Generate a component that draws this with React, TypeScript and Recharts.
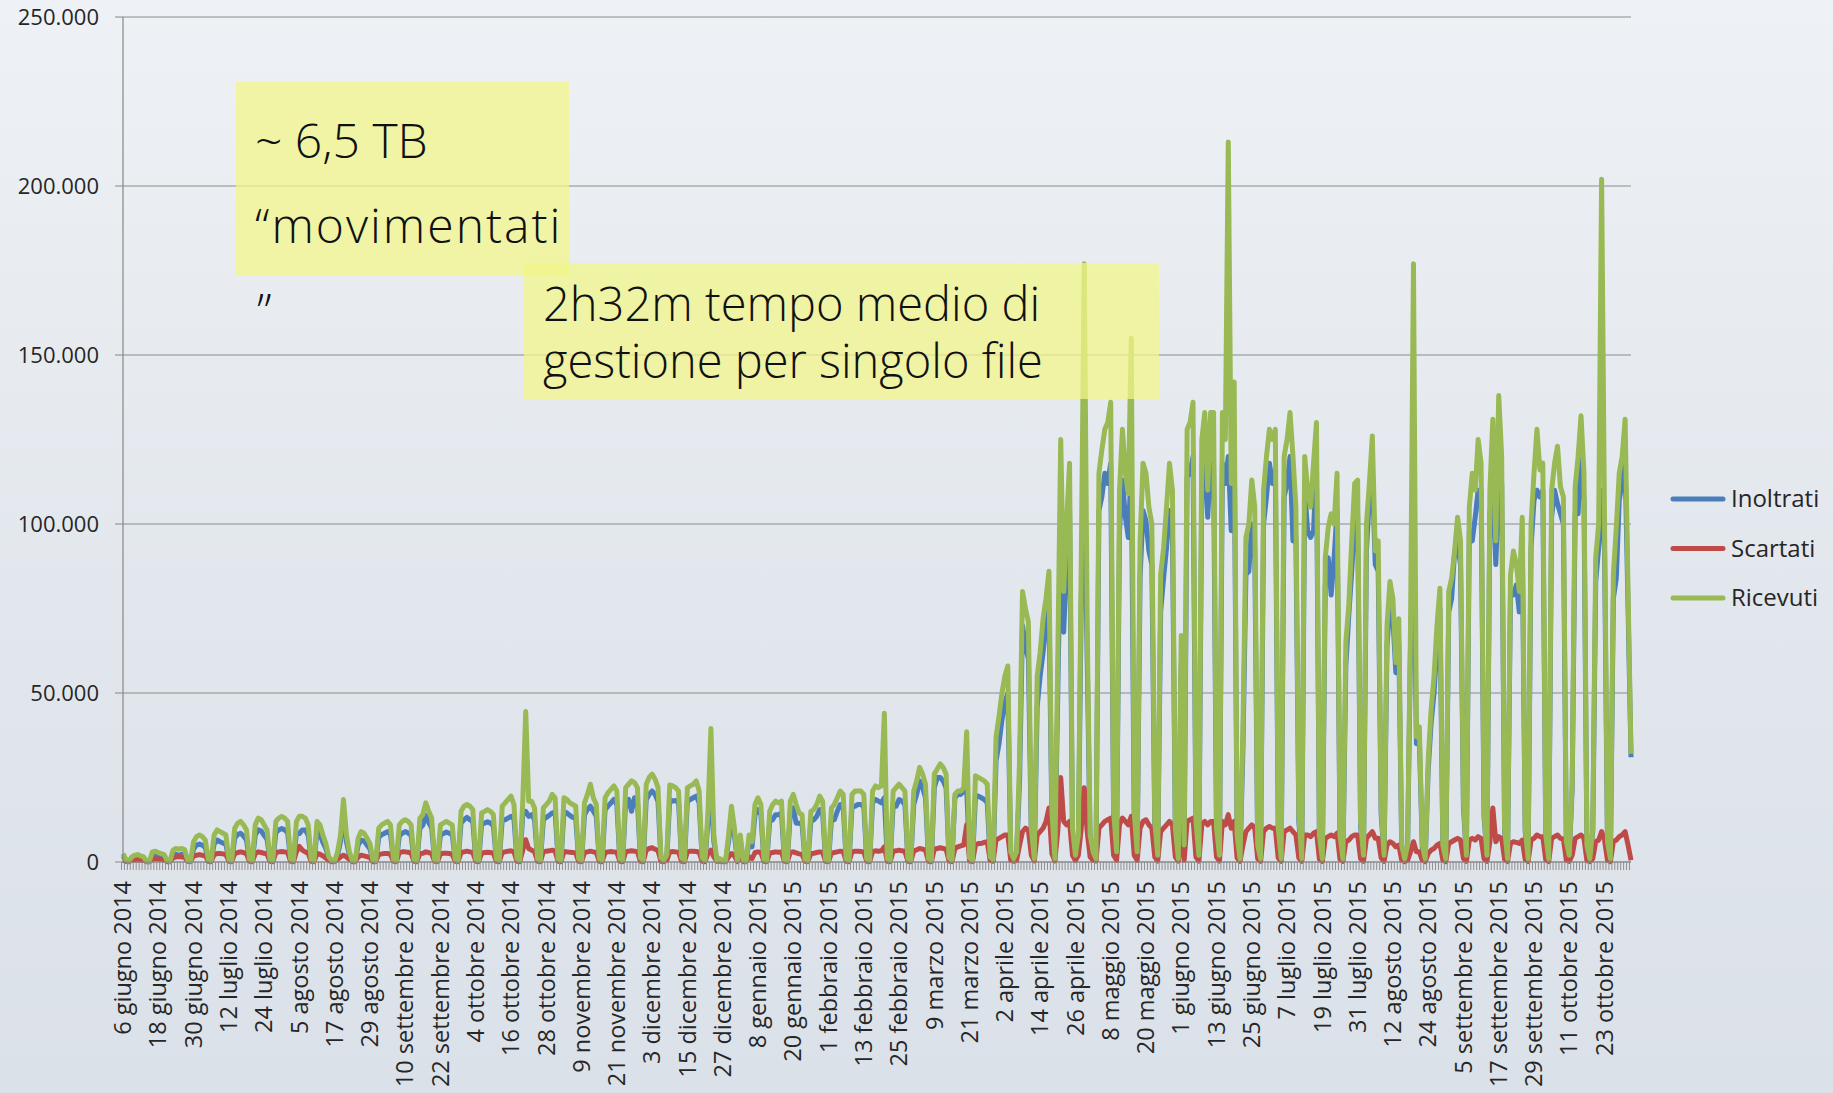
import React from "react";
import { CartesianGrid, Line, LineChart, XAxis, YAxis } from "recharts";

// valori giornalieri in migliaia, dal 6 giugno 2014 (ven) — righe = settimane lun..dom
export const ricevuti = [
  2.5, 0.8, 0.3,
  1.5, 2, 2.2, 1.8, 1.5, 0.3, 0.2,
  3, 3.2, 2.8, 2.5, 2.2, 0.4, 0.2,
  3.5, 4, 3.8, 4, 3.6, 0.5, 0.3,
  6, 7.5, 8, 7.5, 6.5, 0.8, 0.4,
  8, 9.5, 9, 8.5, 8, 0.8, 0.4,
  10, 11.5, 12, 11, 9.5, 0.9, 0.5,
  11, 13, 12.5, 11, 9.5, 0.8, 0.5,
  12, 13, 13.5, 13, 12, 0.9, 0.5,
  12, 13.5, 13.5, 13, 11, 0.8, 0.4,
  12, 11, 8, 5.5, 1.5, 0.5, 0.3,
  3, 8, 18.5, 8, 3, 0.5, 0.3,
  7, 9, 8.5, 7, 5.5, 0.6, 0.3,
  10, 11, 11.5, 12, 11, 0.8, 0.4,
  11, 12, 12.5, 12, 11, 0.8, 0.4,
  13, 14, 17.5, 15, 13, 0.7, 0.4,
  11, 11.5, 12, 11.5, 11, 0.8, 0.4,
  15, 16.5, 17, 16.5, 15.5, 0.9, 0.5,
  14.5, 15, 15.5, 15, 14, 0.9, 0.5,
  16.5, 17.5, 18.5, 19.5, 17, 1, 0.5,
  18, 44.5, 18, 18, 16, 1, 0.5,
  16, 17, 18, 20, 19, 1, 0.5,
  19, 18.5, 17.5, 17, 16.5, 1, 0.5,
  17.5, 20, 23, 19, 17, 1, 0.5,
  19, 20.5, 21.5, 22.5, 21, 1, 0.6,
  22, 23, 24, 23.5, 22, 1.2, 0.6,
  23, 25, 26, 24.5, 22, 1.2, 0.6,
  2, 22.8, 22.5, 22, 21, 1.2, 0.6,
  22, 22.5, 23, 24, 21, 1.2, 0.6,
  15, 39.5, 8, 0.5, 1, 0.4, 0.3,
  8, 16.5, 10, 0.5, 8, 0.5, 0.3,
  8, 6, 17, 19, 17, 0.8, 0.4,
  15, 17, 18, 17.5, 18, 0.8, 0.4,
  18, 20, 17, 14.5, 14, 0.8, 0.4,
  15, 15.5, 17, 19.5, 18, 0.8, 0.4,
  16, 17, 19, 21, 20, 0.9, 0.5,
  20, 21, 21, 21, 20, 0.9, 0.5,
  21, 22.5, 22, 22.5, 44, 1, 0.5,
  21, 22, 23, 22, 21, 1, 0.5,
  21, 24, 28, 26, 23, 1, 0.5,
  26, 27.5, 29, 28, 26, 1.2, 0.6,
  20, 21, 21, 22, 38.5, 1.2, 0.6,
  25.5, 25, 24.5, 24, 23, 1.5, 0.8,
  37, 43, 50, 55, 58, 3, 1,
  3, 30, 80, 75, 71, 10, 1,
  55, 62, 72, 78, 86, 15, 1,
  60, 125, 80, 100, 118, 10, 2,
  8, 90, 177, 70, 8, 3, 1,
  115, 122, 128, 130, 136, 15, 3,
  110, 128, 115, 109, 155, 15, 3,
  95, 118, 115, 105, 100, 12, 2,
  85, 93, 105, 118, 110, 10, 1,
  67, 5, 128, 130, 136, 12, 2,
  125, 133, 110, 133, 133, 10, 2,
  133, 125, 213, 112, 142, 8, 1,
  40, 96, 100, 113, 105, 5, 1,
  110, 120, 128, 125, 128, 10, 1,
  120, 125, 133, 120, 105, 14, 1,
  120, 110, 105, 118, 130, 8, 1,
  90, 99, 103, 100, 115, 8, 1,
  65, 76, 95, 112, 113, 12, 2,
  100, 112, 126, 92, 95, 16, 2,
  70, 83, 78, 59, 72, 5, 1,
  5, 70, 177, 37, 40, 5, 1,
  30, 45, 55, 70, 81, 5, 1,
  80, 84, 92, 102, 95, 18, 2,
  105, 115, 110, 125, 118, 15, 2,
  110, 131, 95, 138, 120, 10, 1,
  85, 92, 88, 80, 102, 10, 1,
  100, 115, 128, 116, 118, 8, 1,
  110, 118, 123, 111, 108, 6, 2,
  24, 111, 120, 132, 115, 5, 1,
  10, 90, 100, 202, 100, 6, 1,
  85, 99, 115, 120, 131, 80, 32,
];

export const inoltrati = [
  1.8, 0.5, 0.2,
  0.9, 1.3, 1.5, 1.2, 0.9, 0.2, 0.1,
  2, 2, 1.8, 1.6, 1.4, 0.3, 0.1,
  2.1, 2.3, 2, 2.3, 2.1, 0.3, 0.2,
  3.8, 5, 5.3, 5, 4.3, 0.5, 0.3,
  5.3, 6.5, 6, 5.6, 5.3, 0.5, 0.3,
  7, 8.2, 8.5, 7.7, 6.5, 0.6, 0.3,
  8, 9.5, 9.2, 7.9, 6.7, 0.5, 0.3,
  8.7, 9.5, 9.9, 9.5, 8.7, 0.6, 0.3,
  8.5, 8.4, 9.5, 9.5, 7.9, 0.5, 0.3,
  9, 8.2, 5.8, 4, 1, 0.3, 0.2,
  2, 6, 15.5, 6, 2, 0.3, 0.2,
  5, 6.5, 6.2, 5, 3.8, 0.4, 0.2,
  7.3, 8.1, 8.5, 9, 8.2, 0.5, 0.3,
  7.7, 8.5, 9, 8.6, 7.9, 0.5, 0.3,
  10, 10.9, 13.8, 11.7, 10, 0.5, 0.3,
  8.1, 8.4, 8.9, 8.5, 8.2, 0.5, 0.3,
  11.5, 12.5, 13.2, 12.5, 12, 0.6, 0.3,
  11.2, 11.5, 11.9, 11.5, 10.7, 0.6, 0.3,
  12.5, 12.5, 13, 13.5, 12.8, 0.7, 0.3,
  14, 15, 13.5, 14, 12.5, 0.7, 0.3,
  12.5, 13.2, 13.8, 14.5, 14.8, 0.7, 0.3,
  15, 14.5, 13.8, 13.2, 13, 0.7, 0.3,
  14, 15.5, 16.5, 15, 13.5, 0.7, 0.3,
  15.5, 16.5, 17.5, 18.5, 17, 0.7, 0.4,
  18, 18.5, 15, 19, 18, 0.9, 0.4,
  18.5, 20, 21, 20, 18, 0.9, 0.4,
  1.3, 18.5, 18, 18.2, 17.5, 0.9, 0.4,
  18, 18.5, 19, 19.5, 17.5, 0.9, 0.4,
  12, 20, 6, 0.3, 0.6, 0.3, 0.2,
  6, 13.5, 7.8, 0.3, 6, 0.3, 0.2,
  6, 4.5, 14, 15.5, 14, 0.5, 0.3,
  12, 12.5, 14, 14, 14.5, 0.5, 0.3,
  14.5, 16, 11.5, 11.5, 11.2, 0.5, 0.3,
  12, 12.5, 13.5, 15.5, 14.5, 0.5, 0.3,
  12.5, 12.5, 15, 17, 16.5, 0.6, 0.3,
  16.5, 16.5, 17, 17, 16.5, 0.6, 0.3,
  17.5, 18.5, 18, 17.5, 19, 0.7, 0.3,
  17, 16.5, 18.5, 18, 17, 0.7, 0.3,
  17, 20, 24, 22, 19, 0.7, 0.3,
  22, 25, 25, 24, 22, 0.8, 0.4,
  19, 20, 20, 21, 22, 0.8, 0.4,
  19.5, 19.5, 19, 18.5, 17.5, 1, 0.5,
  30, 35, 42, 47, 50, 2.2, 0.7,
  2.2, 24, 70, 64, 60, 7.5, 0.6,
  46, 55, 62, 70, 75, 12, 0.6,
  50, 98, 68, 88, 105, 7.5, 1.5,
  5.5, 78, 115, 60, 6, 2.2, 0.6,
  104, 108, 115, 112, 118, 12, 2.3,
  98, 113, 102, 96, 118, 12, 2.3,
  84, 104, 101, 92, 88, 10, 1.5,
  74, 84, 93, 104, 98, 8, 0.6,
  58, 4, 114, 115, 120, 10, 1.5,
  112, 118, 102, 118, 117, 8, 1.5,
  118, 112, 120, 98, 126, 6.5, 0.7,
  34, 85, 86, 100, 93, 3.8, 0.7,
  100, 108, 118, 112, 116, 8.5, 0.7,
  108, 112, 120, 95, 96, 12, 0.7,
  110, 98, 96, 98, 118, 7, 0.7,
  82, 90, 79, 90, 104, 7, 0.7,
  58, 73, 86, 101, 103, 10.5, 1.7,
  92, 108, 115, 88, 86, 14, 1.7,
  64, 76, 72, 56, 65, 4.2, 0.8,
  4.2, 64, 100, 35, 36, 4.2, 0.8,
  27, 41, 50, 64, 75, 4.2, 0.8,
  74, 78, 92, 94, 88, 16, 1.7,
  98, 95, 102, 110, 110, 13.5, 1.7,
  103, 113, 88, 110, 112, 9, 0.8,
  79, 79, 82, 74, 95, 9, 0.8,
  93, 107, 110, 108, 110, 7, 0.8,
  102, 110, 106, 103, 100, 5.2, 1.7,
  22, 103, 103, 122, 107, 4.4, 0.8,
  9, 83, 93, 110, 92, 5.2, 0.8,
  78, 84, 107, 112, 118, 75, 31,
];

export const scartati = [
  0.5, 0.2, 0.1,
  0.5, 0.6, 0.6, 0.5, 0.5, 0.1, 0.1,
  0.8, 1, 0.9, 0.8, 0.7, 0.1, 0.1,
  1.2, 1.5, 1.6, 1.5, 1.3, 0.2, 0.1,
  1.8, 2, 2.2, 2, 1.8, 0.2, 0.1,
  2.2, 2.5, 2.5, 2.4, 2.2, 0.2, 0.1,
  2.5, 2.8, 3, 2.8, 2.5, 0.2, 0.1,
  2.5, 3, 2.8, 2.6, 2.3, 0.2, 0.1,
  2.8, 3, 3.1, 3, 2.8, 0.2, 0.1,
  3, 4.6, 3.5, 3, 2.6, 0.2, 0.1,
  2.5, 2.3, 1.8, 1.2, 0.4, 0.1, 0.1,
  0.8, 1.5, 2, 1.5, 0.8, 0.1, 0.1,
  1.5, 2, 1.8, 1.6, 1.3, 0.1, 0.1,
  2.2, 2.4, 2.5, 2.5, 2.3, 0.2, 0.1,
  2.8, 3, 3, 2.9, 2.6, 0.2, 0.1,
  2.5, 2.6, 3, 2.8, 2.5, 0.2, 0.1,
  2.4, 2.6, 2.6, 2.5, 2.3, 0.2, 0.1,
  2.8, 3, 3.2, 3, 2.8, 0.2, 0.1,
  2.6, 2.8, 2.9, 2.8, 2.6, 0.2, 0.1,
  2.8, 3, 3.2, 3.3, 3, 0.2, 0.1,
  3.5, 6.6, 4, 3.5, 3, 0.2, 0.1,
  3, 3.2, 3.3, 3.5, 3.2, 0.2, 0.1,
  3, 3, 2.9, 2.8, 2.7, 0.2, 0.1,
  2.8, 3, 3.2, 3, 2.8, 0.2, 0.1,
  2.8, 3, 3.1, 3, 2.9, 0.2, 0.1,
  3, 3.2, 3.3, 3.2, 3, 0.2, 0.1,
  3.5, 4, 4.2, 3.8, 3.4, 0.2, 0.1,
  0.5, 3, 3.1, 3, 2.9, 0.2, 0.1,
  3, 3.2, 3.2, 3.1, 2.9, 0.2, 0.1,
  2.5, 3.5, 1.5, 0.2, 0.3, 0.1, 0.1,
  1.5, 2.5, 1.8, 0.1, 1.5, 0.1, 0.1,
  1.5, 1, 2.8, 3, 2.8, 0.2, 0.1,
  2.6, 2.8, 3, 2.9, 3, 0.2, 0.1,
  2.8, 3, 2.7, 2.4, 2.3, 0.2, 0.1,
  2.5, 2.6, 2.8, 3, 2.9, 0.2, 0.1,
  2.6, 2.8, 3, 3.2, 3.1, 0.2, 0.1,
  3, 3.2, 3.2, 3.1, 3, 0.2, 0.1,
  3.1, 3.3, 3.2, 3.3, 4.5, 0.2, 0.1,
  3.2, 3.3, 3.5, 3.3, 3.2, 0.2, 0.1,
  3.3, 3.6, 4, 3.8, 3.5, 0.2, 0.1,
  3.8, 4, 4.2, 4, 3.8, 0.3, 0.1,
  4, 4.5, 4.8, 5, 11, 0.3, 0.1,
  5, 5.5, 5.5, 5.8, 6, 0.4, 0.2,
  6.5, 7, 7.5, 8, 8, 0.5, 0.2,
  0.5, 5, 9, 10, 9.5, 2, 0.3,
  8, 9, 10, 12, 16, 2.5, 0.3,
  9, 25, 12, 11, 12, 2, 0.4,
  2, 10, 22, 9, 1.5, 0.5, 0.3,
  10, 11, 12, 12.5, 13, 2, 0.5,
  11, 13, 12, 11, 13.5, 2, 0.5,
  10, 12, 12.5, 11, 10, 1.5, 0.3,
  9, 10, 11, 12, 11, 1.5, 0.3,
  8, 0.5, 12, 12.5, 13, 1.5, 0.3,
  11, 12, 11, 12, 12, 1.5, 0.3,
  12, 11, 14, 10, 12, 1.2, 0.2,
  5, 9, 10, 11, 10, 1, 0.2,
  9, 10, 10.5, 10, 10, 1.2, 0.2,
  9, 9.5, 10, 9, 8, 1.2, 0.2,
  8, 8, 7.5, 8.5, 9, 0.8, 0.2,
  7, 7.5, 8, 7.5, 8.5, 0.8, 0.2,
  6, 6.5, 7.5, 8, 8, 1, 0.2,
  7, 8, 9, 7, 7, 1.2, 0.2,
  5, 6, 5.5, 4.5, 5, 0.5, 0.1,
  0.5, 3, 6, 3, 3, 0.5, 0.1,
  2.5, 3.5, 4, 5, 5.5, 0.5, 0.1,
  5.5, 6, 6.5, 7, 6.5, 1, 0.2,
  6.5, 7, 6.5, 7.5, 7, 1, 0.2,
  6, 16, 6, 7.5, 7, 0.8, 0.1,
  5.5, 6, 5.8, 5.5, 6.5, 0.8, 0.1,
  6.5, 7, 8, 7.5, 7.5, 0.6, 0.1,
  7, 7.5, 8, 7, 6.8, 0.5, 0.2,
  2, 7, 7.5, 8, 7, 0.4, 0.1,
  1, 6, 6.5, 9, 6.5, 0.5, 0.1,
  6, 6.5, 7.5, 8, 9, 5, 0.5,
];

// un'etichetta ogni 12 giorni
export const tickLabels = [
  "6 giugno 2014", "18 giugno 2014", "30 giugno 2014", "12 luglio 2014",
  "24 luglio 2014", "5 agosto 2014", "17 agosto 2014", "29 agosto 2014",
  "10 settembre 2014", "22 settembre 2014", "4 ottobre 2014", "16 ottobre 2014",
  "28 ottobre 2014", "9 novembre 2014", "21 novembre 2014", "3 dicembre 2014",
  "15 dicembre 2014", "27 dicembre 2014", "8 gennaio 2015", "20 gennaio 2015",
  "1 febbraio 2015", "13 febbraio 2015", "25 febbraio 2015", "9 marzo 2015",
  "21 marzo 2015", "2 aprile 2015", "14 aprile 2015", "26 aprile 2015",
  "8 maggio 2015", "20 maggio 2015", "1 giugno 2015", "13 giugno 2015",
  "25 giugno 2015", "7 luglio 2015", "19 luglio 2015", "31 luglio 2015",
  "12 agosto 2015", "24 agosto 2015", "5 settembre 2015", "17 settembre 2015",
  "29 settembre 2015", "11 ottobre 2015", "23 ottobre 2015",
];

export const yTicks = [0, 50, 100, 150, 200, 250];

const series = [
  { key: "inoltrati", name: "Inoltrati", color: "#4A7EBB" },
  { key: "scartati", name: "Scartati", color: "#BE4B48" },
  { key: "ricevuti", name: "Ricevuti", color: "#98B954" },
];

const data = ricevuti.map((r, i) => ({
  day: i,
  ricevuti: r,
  inoltrati: inoltrati[i],
  scartati: scartati[i],
}));

const FONT = "'Open Sans', 'Noto Sans', sans-serif";
const TEXT = "#262626";

const fmtY = (v: number) => (v === 0 ? "0" : `${v}.000`);

const DayTick = (props: any) => {
  const { x, y, payload } = props;
  const i = payload.value as number;
  const label = i % 12 === 0 ? tickLabels[i / 12] : null;
  const ty = y + 19;
  return (
    <g>
      <line x1={x - 1.5} y1={y} x2={x - 1.5} y2={y + 8} stroke="#8f8f8f" strokeWidth={1} />
      {label && (
        <text
          x={x}
          y={ty}
          transform={`rotate(-90 ${x} ${ty})`}
          textAnchor="end"
          dy="0.35em"
          fontSize={23.5}
          fontFamily={FONT}
          fill={TEXT}
        >
          {label}
        </text>
      )}
    </g>
  );
};

export default function App() {
  return (
    <div
      style={{
        position: "absolute",
        left: 0,
        top: 0,
        width: 1833,
        height: 1093,
        overflow: "hidden",
        background: "linear-gradient(180deg, #eef1f5 0%, #e2e7ed 55%, #dbe1e9 100%)",
        fontFamily: FONT,
      }}
    >
      <LineChart
        width={1833}
        height={1093}
        data={data}
        margin={{ top: 17, right: 202, bottom: 0, left: 0 }}
      >
        <CartesianGrid vertical={false} stroke="#8c8c8c" strokeWidth={1.2} />
        <XAxis
          dataKey="day"
          interval={0}
          height={231}
          tickLine={false}
          tickSize={0}
          tickMargin={0}
          axisLine={{ stroke: "#868686", strokeWidth: 1.2 }}
          tick={<DayTick />}
        />
        <YAxis
          domain={[0, 250]}
          ticks={yTicks}
          tickFormatter={fmtY}
          width={123}
          axisLine={{ stroke: "#868686", strokeWidth: 1.2 }}
          tickLine={{ stroke: "#868686" }}
          tickSize={8}
          tickMargin={16}
          tick={{ fontSize: 22, fill: TEXT, fontFamily: FONT }}
        />
        {series.map((s) => (
          <Line
            key={s.key}
            dataKey={s.key}
            name={s.name}
            type="linear"
            stroke={s.color}
            strokeWidth={5}
            strokeLinejoin="round"
            dot={false}
            activeDot={false}
            isAnimationActive={false}
          />
        ))}
      </LineChart>

      <svg
        width={1833}
        height={1093}
        style={{ position: "absolute", left: 0, top: 0, pointerEvents: "none" }}
      >
        <rect x={236} y={82} width={333} height={193} fill="#f2f58a" fillOpacity={0.75} />
        <rect x={524} y={263} width={635} height={136} fill="#f2f58a" fillOpacity={0.75} />
        <g fontFamily={FONT} fontWeight={300} fill="#111">
          <text fontSize={48}>
            <tspan x={255} y={158}>~ 6,5 TB</tspan>
            <tspan x={255} y={243} letterSpacing={2}>“movimentati</tspan>
            <tspan x={257} y={328}>”</tspan>
          </text>
          <text fontSize={47}>
            <tspan x={543} y={321}>2h32m tempo medio di</tspan>
            <tspan x={543} y={378}>gestione per singolo file</tspan>
          </text>
        </g>
        <g fontFamily={FONT} fontSize={24} fill={TEXT}>
          {series.map((s, i) => (
            <g key={s.key}>
              <line
                x1={1673}
                y1={499 + i * 49.5}
                x2={1723}
                y2={499 + i * 49.5}
                stroke={s.color}
                strokeWidth={5}
                strokeLinecap="round"
              />
              <text x={1731} y={499 + i * 49.5} dy="0.35em">
                {s.name}
              </text>
            </g>
          ))}
        </g>
      </svg>
    </div>
  );
}
